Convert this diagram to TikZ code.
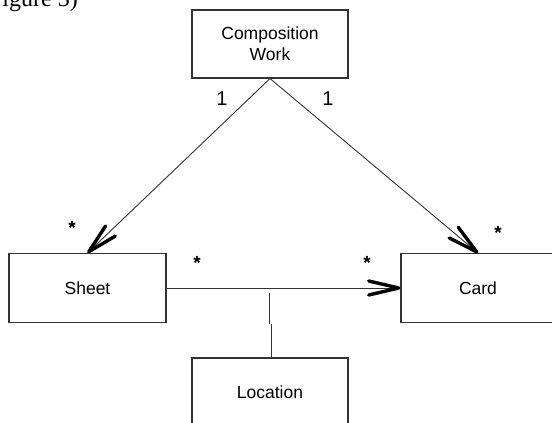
\documentclass[tikz,border=0pt]{standalone}
\usepackage{fontspec}
\setmainfont{Liberation Sans}
\newfontfamily\captionserif{Liberation Serif}
\usetikzlibrary{arrows.meta}

\definecolor{edgegrey}{HTML}{333333}

\tikzset{
  classbox/.style={draw=edgegrey, line width=1.1pt, rectangle, inner sep=0pt,
    align=center, font=\fontsize{17.5}{21}\selectfont},
  assoc/.style={draw=edgegrey, line width=0.9pt},
  navtip/.style={-{Straight Barb[length=30pt, width=14pt, line width=3.4pt, round, color=black]}},
  mult/.style={inner sep=0pt, font=\fontsize{20}{22}\selectfont},
  many/.style={inner sep=0pt, font=\fontsize{19}{22}\selectfont\bfseries},
}

\begin{document}
\begin{tikzpicture}[x=1pt, y=-1pt]
  \useasboundingbox (0,0) rectangle (552,423);

  % caption fragment at the top
  \node[anchor=base east, inner sep=0pt, font=\captionserif\fontsize{24}{28}\selectfont]
    (cap) at (78,6) {igure 3)};

  % classes
  \node[classbox, minimum width=156pt, minimum height=68pt] (comp) at (270,44)
    {Composition\\Work};
  \node[classbox, minimum width=157pt, minimum height=69pt] (sheet) at (87.5,288) {Sheet};
  \node[classbox, minimum width=154pt, minimum height=69pt] (card) at (478,288) {Card};
  \node[classbox, minimum width=156pt, minimum height=68pt] (loc) at (270,392) {Location};

  % associations
  \draw[assoc, navtip] (comp.south) -- (sheet.north);
  \draw[assoc, navtip] (comp.south) -- (card.north);
  \draw[assoc, navtip] (sheet.east) -- (card.west);

  % link from the association to Location
  \coordinate (linkA) at (269.5,293);
  \coordinate (linkB) at (269.5,324);
  \coordinate (linkC) at (271,324);
  \draw[assoc] (linkA) -- (linkB);
  \draw[assoc] (linkC) -- (linkC |- loc.north);

  % multiplicities
  \node[mult] (m1) at (222,99) {1};
  \node[mult] (m2) at (328,99) {1};
  \node[many] (s1) at (72,228) {*};
  \node[many] (s2) at (197,263) {*};
  \node[many] (s3) at (367,263) {*};
  \node[many] (s4) at (498,233) {*};
\end{tikzpicture}
\end{document}
